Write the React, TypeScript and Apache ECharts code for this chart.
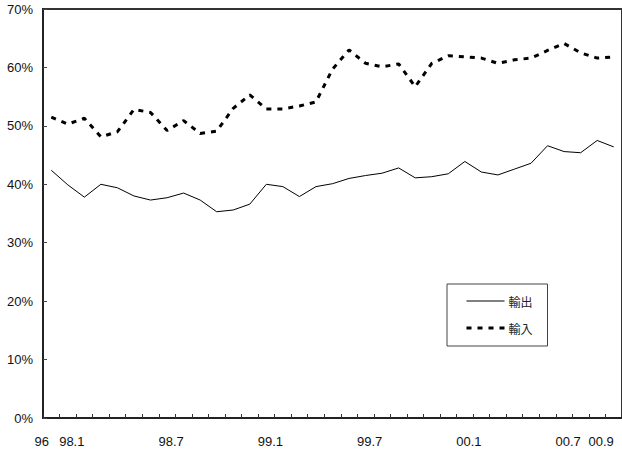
import React, { useEffect, useRef } from "react";
import * as echarts from "echarts";

const categories: string[] = [
  "96",
  "98.1", "98.2", "98.3", "98.4", "98.5", "98.6", "98.7", "98.8", "98.9", "98.10", "98.11", "98.12",
  "99.1", "99.2", "99.3", "99.4", "99.5", "99.6", "99.7", "99.8", "99.9", "99.10", "99.11", "99.12",
  "00.1", "00.2", "00.3", "00.4", "00.5", "00.6", "00.7", "00.8", "00.9", "00.10",
];

const shownLabels: string[] = ["96", "98.1", "98.7", "99.1", "99.7", "00.1", "00.7", "00.9"];

const exportValues: number[] = [
  42.4, 39.9, 37.8, 40.0, 39.4, 38.0, 37.3, 37.7, 38.5, 37.3, 35.3, 35.6, 36.6,
  40.0, 39.6, 37.9, 39.6, 40.1, 41.0, 41.5, 41.9, 42.8, 41.1, 41.3, 41.8,
  43.9, 42.1, 41.6, 42.6, 43.6, 46.6, 45.6, 45.4, 47.5, 46.4,
];

const importValues: number[] = [
  51.5, 50.3, 51.3, 48.1, 49.0, 52.8, 52.3, 49.2, 50.9, 48.7, 49.1, 53.0, 55.3,
  52.9, 52.9, 53.4, 54.1, 59.7, 63.0, 60.7, 60.1, 60.6, 56.7, 60.7, 62.0,
  61.8, 61.6, 60.7, 61.3, 61.6, 62.9, 64.1, 62.5, 61.6, 61.8,
];

const yTicks = { min: 0, max: 70, interval: 10 };

export default function App() {
  const ref = useRef<HTMLDivElement>(null);
  useEffect(() => {
    if (!ref.current) return;
    const chart = echarts.init(ref.current, undefined, { renderer: "svg" });
    const font = "'Liberation Sans', Arial, sans-serif";
    chart.setOption({
      animation: false,
      backgroundColor: "#ffffff",
      grid: {
        left: 43,
        top: 9,
        right: -3.4,
        bottom: 32,
        show: true,
        borderColor: "#333",
        borderWidth: 2,
      },
      legend: {
        orient: "vertical",
        left: 447,
        top: 284,
        padding: [11, 15, 12, 18],
        itemWidth: 38,
        itemHeight: 14,
        itemGap: 15,
        borderColor: "#444",
        borderWidth: 1,
        itemStyle: { opacity: 0 },
        lineStyle: { width: "inherit" },
        textStyle: {
          fontFamily: "'Noto Sans CJK JP', sans-serif",
          fontSize: 12,
          color: "#222",
          padding: [0, 0, 0, -1],
        },
        data: ["輸出", "輸入"],
      },
      xAxis: {
        type: "category",
        data: categories,
        boundaryGap: true,
        axisLine: { show: true, lineStyle: { color: "#222", width: 2 } },
        axisTick: {
          show: true,
          inside: true,
          length: 4,
          interval: 0,
          lineStyle: { color: "#333", width: 1 },
        },
        splitLine: { show: false },
        axisLabel: {
          interval: (idx: number, val: string) => shownLabels.indexOf(val) >= 0,
          margin: 17,
          color: "#111",
          fontFamily: font,
          fontSize: 13,
          formatter: (val: string) => (val === "96" ? `{f|${val}}` : `{r|${val}}`),
          rich: {
            f: { padding: [0, 19, 0, 0], fontSize: 13, fontFamily: font, color: "#111" },
            r: { padding: [0, 0, 0, 8], fontSize: 13, fontFamily: font, color: "#111" },
          },
        },
      },
      yAxis: {
        type: "value",
        min: yTicks.min,
        max: yTicks.max,
        interval: yTicks.interval,
        axisLine: { show: true, lineStyle: { color: "#222", width: 2 } },
        axisTick: {
          show: true,
          inside: true,
          length: 4,
          lineStyle: { color: "#444", width: 1 },
        },
        splitLine: { show: false },
        axisLabel: {
          formatter: "{value}%",
          margin: 10,
          color: "#111",
          fontFamily: font,
          fontSize: 13,
          padding: [9, 0, 0, 0],
        },
      },
      series: [
        {
          name: "輸出",
          type: "line",
          data: exportValues,
          symbol: "none",
          lineStyle: { color: "#000", width: 1 },
          itemStyle: { color: "#000" },
        },
        {
          name: "輸入",
          type: "line",
          data: importValues,
          symbol: "none",
          lineStyle: { color: "#000", width: 3, type: [5, 6] },
          itemStyle: { color: "#000" },
        },
      ],
    });
    return () => chart.dispose();
  }, []);
  return (
    <div
      ref={ref}
      style={{ position: "absolute", left: 0, top: 0, width: 622, height: 450 }}
    />
  );
}
